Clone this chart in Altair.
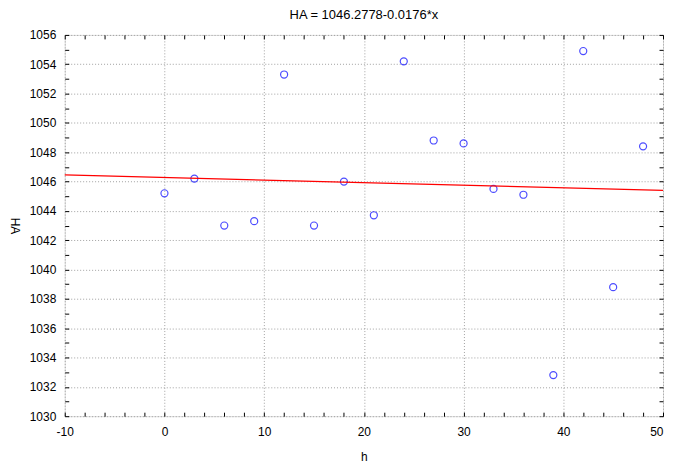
import altair as alt
import pandas as pd

# Data
h_values = [0, 3, 6, 9, 12, 15, 18, 21, 24, 27, 30, 33, 36, 39, 42, 45, 48]
ha_values = [1045.2, 1046.2, 1043.0, 1043.3, 1053.3, 1043.0, 1046.0, 1043.7,
             1054.2, 1048.8, 1048.6, 1045.5, 1045.1, 1032.8, 1054.9, 1038.8, 1048.4]

# Fitted line HA = 1046.2778 - 0.0176*x, endpoints at the axis limits
line_h = [-10, 50]
line_ha = [1046.454, 1045.398]

x_major = [-10, 0, 10, 20, 30, 40, 50]
y_major = [1030, 1032, 1034, 1036, 1038, 1040, 1042, 1044, 1046, 1048, 1050, 1052, 1054, 1056]
x_minor = list(range(-10, 51, 2))
y_minor = list(range(1030, 1057, 1))

title_text = "HA = 1046.2778-0.0176*x"

pts = pd.DataFrame({"h": h_values, "HA": ha_values})
ln = pd.DataFrame({"h": line_h, "HA": line_ha})

xscale = alt.Scale(domain=[-10, 50], nice=False, zero=False)
yscale = alt.Scale(domain=[1030, 1056], nice=False, zero=False)

FONT = "Liberation Sans"

main_x = alt.Axis(values=x_major, ticks=False, domain=False, grid=True,
                  gridColor="#a0a0a0", gridDash=[1, 2], gridWidth=1,
                  labelFont=FONT, labelFontSize=12, labelColor="#000000",
                  labelPadding=10, labelFlush=False,
                  labelAlign=alt.condition("datum.value == 50", alt.value("right"), alt.value("center")),
                  title="h", titleFont=FONT, titleFontSize=12,
                  titleFontWeight="normal", titleColor="#000000", titlePadding=15,
                  labelExpr="'' + datum.value")
main_y = alt.Axis(values=y_major, ticks=False, domain=False, grid=True,
                  gridColor="#a0a0a0", gridDash=[1, 2], gridWidth=1,
                  labelFont=FONT, labelFontSize=12, labelColor="#000000",
                  labelPadding=9, labelFlush=False,
                  title="HA", titleFont=FONT, titleFontSize=12,
                  titleFontWeight="normal", titleColor="#000000", titleAngle=90,
                  titlePadding=22, labelExpr="'' + datum.value")

def tick_axis(vals, orient):
    return alt.Axis(values=vals, orient=orient, labels=False, domain=False, grid=False,
                    ticks=True, tickSize=4, tickColor="#000000", tickWidth=1,
                    offset=-4, title=None)

points = alt.Chart(pts).mark_point(shape="circle", filled=False, color="#0000ff",
                                   size=50, strokeWidth=1.2).encode(
    x=alt.X("h:Q", scale=xscale, axis=main_x),
    y=alt.Y("HA:Q", scale=yscale, axis=main_y),
)

fit = alt.Chart(ln).mark_line(color="#ff0000", strokeWidth=1.2).encode(
    x=alt.X("h:Q", scale=xscale, axis=tick_axis(x_minor, "bottom")),
    y=alt.Y("HA:Q", scale=yscale, axis=tick_axis(y_minor, "left")),
)

frame_ticks = alt.Chart(ln).mark_line(opacity=0).encode(
    x=alt.X("h:Q", scale=xscale, axis=tick_axis(x_minor, "top")),
    y=alt.Y("HA:Q", scale=yscale, axis=tick_axis(y_minor, "right")),
)

chart = alt.layer(points, fit, frame_ticks).resolve_axis(
    x="independent", y="independent"
).properties(
    width=601, height=383,
    padding={"left": 0, "top": 0, "right": 0, "bottom": 0},
    title=alt.TitleParams(title_text, font=FONT, fontSize=13, fontWeight="normal",
                          color="#000000", offset=7, anchor="middle"),
).configure_view(stroke="#000000", strokeWidth=1.5).configure(background="white")

chart.save("out.html", embed_options={"renderer": "svg", "actions": False})
